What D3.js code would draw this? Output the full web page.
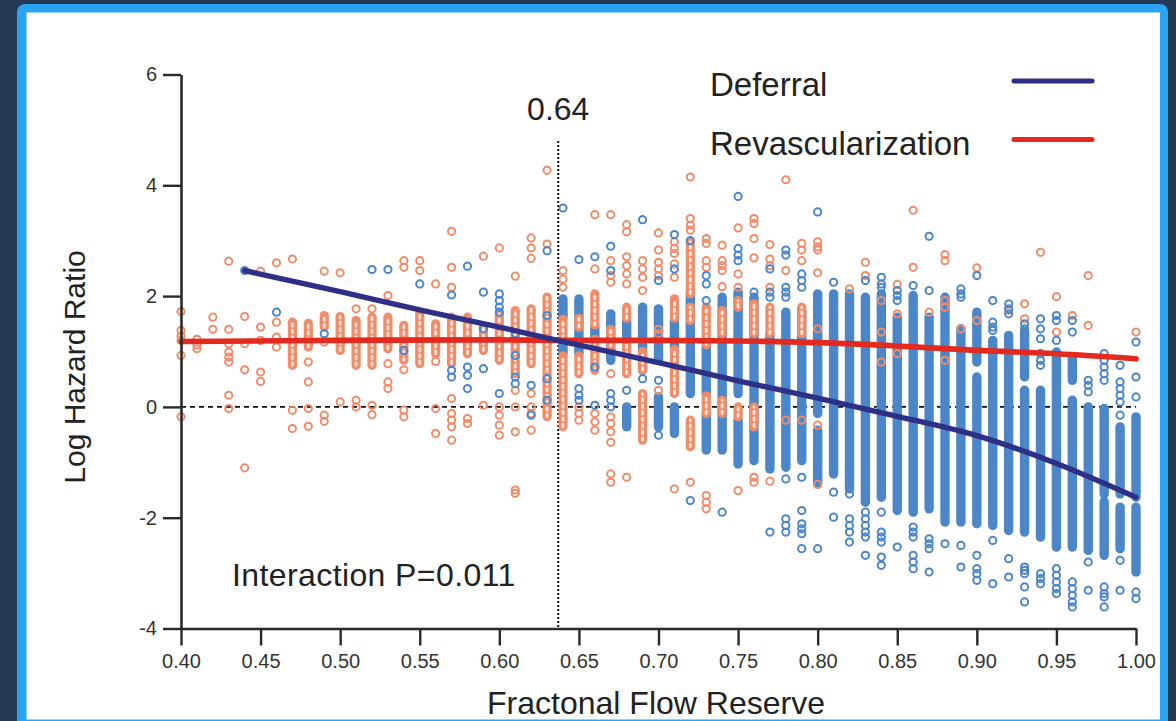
<!DOCTYPE html>
<html>
<head>
<meta charset="utf-8">
<script src="https://cdn.jsdelivr.net/npm/d3@7"></script>
<style>
  body { margin: 0; background: #253a53; }
  svg { display: block; font-family: "Liberation Sans", Arial, sans-serif; }
</style>
</head>
<body>
<div id="chart"></div>
<script>
const xTicks = [0.40, 0.45, 0.50, 0.55, 0.60, 0.65, 0.70, 0.75, 0.80, 0.85, 0.90, 0.95, 1.00];
const yTicks = [-4, -2, 0, 2, 4, 6];
const cutoff = 0.637;
const cutoffLabel = '0.64';
const pText = 'Interaction P=0.011';
const series = ['Deferral', 'Revascularization'];

// fitted curves (FFR, log HR)
const deferralCurve = [[0.44, 2.46], [0.50, 2.08], [0.55, 1.75], [0.60, 1.44], [0.64, 1.18], [0.70, 0.80],
    [0.75, 0.47], [0.80, 0.16], [0.85, -0.17], [0.90, -0.52], [0.95, -1.02], [1.00, -1.63]];
const revascCurve = [[0.40, 1.18], [0.50, 1.20], [0.60, 1.21], [0.64, 1.20], [0.70, 1.20], [0.75, 1.19],
    [0.80, 1.16], [0.85, 1.10], [0.90, 1.02], [0.95, 0.96], [1.00, 0.87]];

// dense stacks of points: [FFR, low, high]
const deferralRuns = [
    [0.64, 1.62, 1.95], [0.64, 0.96, 1.20], [0.65, 0.96, 1.95], [0.66, 1.26, 1.44], [0.67, 0.84, 1.68],
    [0.68, 1.20, 1.56], [0.68, -0.36, 0.0], [0.69, 0.66, 1.80], [0.70, 0.84, 1.77], [0.70, -0.36, 0.18],
    [0.71, 1.08, 1.56], [0.71, -0.48, 0.0], [0.72, 0.72, 2.04], [0.72, 0.24, 0.60], [0.73, 0.24, 1.08],
    [0.73, -0.78, -0.12], [0.74, -0.78, 1.98], [0.75, 0.24, 2.07], [0.75, -1.03, -0.24], [0.76, -0.97, 1.98],
    [0.77, -1.12, 1.32], [0.78, -1.09, 1.71], [0.79, -0.97, 1.74], [0.80, -0.12, 2.04], [0.80, -1.39, -0.42],
    [0.81, -1.21, 2.04], [0.82, -1.48, 2.04], [0.83, -1.72, 1.98], [0.84, -1.63, 2.04], [0.85, -1.87, 1.62],
    [0.86, -1.90, 2.01], [0.87, -1.84, 1.62], [0.88, -2.08, 1.98], [0.89, -2.08, 1.41], [0.90, 0.81, 1.71],
    [0.90, -2.11, 0.54], [0.91, -2.14, 1.20], [0.92, -2.23, 1.29], [0.93, 0.54, 1.35], [0.93, -2.26, 0.30],
    [0.94, -2.35, 0.30], [0.95, -2.53, 0.99], [0.96, 0.48, 0.90], [0.96, -2.53, 0.12], [0.97, -2.59, 0.0],
    [0.98, -1.57, -0.03], [0.98, -2.68, -1.71], [0.99, -1.57, -0.36], [0.99, -2.56, -1.81],
    [1.00, -1.63, -0.18], [1.00, -2.98, -1.81]
];
const revascRuns = [
    [0.47, 0.75, 1.53], [0.48, 1.08, 1.51], [0.49, 1.44, 1.65], [0.50, 1.02, 1.63], [0.51, 0.75, 1.56],
    [0.52, 0.75, 1.62], [0.53, 1.05, 1.62], [0.54, 0.84, 1.47], [0.55, 0.78, 1.68], [0.56, 0.96, 1.50],
    [0.57, 0.78, 1.62], [0.58, 0.96, 1.62], [0.59, 1.02, 1.44], [0.60, 0.84, 1.68], [0.61, 0.60, 1.74],
    [0.62, 0.78, 1.77], [0.63, -0.18, 1.98], [0.64, 1.24, 1.58], [0.64, -0.36, 0.92], [0.65, 1.44, 1.60],
    [0.65, 0.60, 0.92], [0.66, 1.48, 2.04], [0.66, 0.66, 1.22], [0.67, 1.10, 1.40], [0.68, 1.60, 1.80],
    [0.68, 0.60, 1.16], [0.69, 0.66, 1.00], [0.69, -0.60, 0.24], [0.71, 0.24, 1.04], [0.71, 1.60, 1.95],
    [0.72, 2.04, 2.98], [0.72, 1.56, 1.80], [0.72, -0.72, -0.24], [0.73, 1.12, 1.80], [0.73, -0.12, 0.20],
    [0.74, 1.32, 1.74], [0.74, -0.12, 0.12], [0.75, 1.80, 1.92], [0.75, -0.18, 0.0], [0.76, 1.32, 1.86],
    [0.76, -0.36, 0.0], [0.77, 1.32, 1.80], [0.79, 1.32, 1.80]
];

// single points by FFR column
const revascPts = [
    [0.40, [1.72, 1.38, 1.28, 1.20, 0.93, -0.18]], [0.41, [1.22, 1.12, 1.05]], [0.42, [1.62, 1.40]],
    [0.43, [2.63, 1.40, 1.14, 0.99, 0.90, 0.81, 0.21, -0.03]], [0.44, [1.63, 1.14, 0.67, -1.10]],
    [0.45, [2.45, 1.44, 1.20, 0.63, 0.46]], [0.46, [2.60, 1.53, 1.26, 1.08]], [0.47, [2.67, -0.06, -0.39]],
    [0.48, [0.81, 0.45, -0.03, -0.35]], [0.49, [2.45, 1.17, -0.15, -0.26]], [0.50, [2.42, 0.09]],
    [0.51, [1.77, 0.12, 0.0]], [0.52, [1.77, 0.03, -0.14]], [0.53, [2.01, 0.78, 0.45, 0.33]],
    [0.54, [2.64, 2.52, 0.67, -0.06, -0.18]], [0.55, [2.64, 2.46]], [0.56, [2.22, 0.82, -0.03, -0.48]],
    [0.57, [3.17, 2.52, 2.16, 0.15, -0.12, -0.24, -0.36, -0.60]], [0.58, [-0.21, -0.30]], [0.59, [2.72, 0.03]],
    [0.60, [2.87, 0.0, -0.15, -0.33, -0.51]], [0.61, [2.36, 0.30, 0.0, -0.45, -1.50, -1.56]],
    [0.62, [3.05, 2.87, 2.68, 0.24, 0.0, -0.12, -0.42]], [0.63, [4.27, 2.94]], [0.64, [2.46, 2.31, 2.16]],
    [0.65, [0.0, -0.12, -0.24]], [0.66, [3.47, 2.49, -0.12, -0.27, -0.42]],
    [0.67, [3.47, 2.64, 2.37, 2.25, 0.60, -0.18, -0.30, -0.45, -0.64, -1.21, -1.36]],
    [0.68, [3.29, 3.16, 2.71, 2.55, 2.40, 2.22, -1.27]], [0.69, [2.64, 2.49, 2.34, 2.10]],
    [0.70, [3.14, 2.83, 2.61, 2.49, 2.37, 1.40, 1.32, 0.30]], [0.71, [2.98, 2.86, 2.77, 2.58, 2.34, -1.48]],
    [0.72, [4.15, 3.40, 3.28, 3.19, -1.36]], [0.73, [3.04, 2.95, 2.64, 2.52, -1.60, -1.72, -1.84]],
    [0.74, [2.92, 2.64, 2.55, 2.46, 2.17]], [0.75, [3.23, 2.40, 2.16, -1.51]],
    [0.76, [3.40, 3.31, 3.04, 2.69, -1.27, -1.36]], [0.77, [2.93, 2.67, 2.55, 2.16, -1.34]],
    [0.78, [4.10, 2.46, -0.24]], [0.79, [2.95, 2.83, 2.64, -0.24]],
    [0.80, [2.98, 2.89, 2.83, 2.42, 1.41, -0.33, -1.40]], [0.82, [2.13]], [0.83, [2.61, 2.37]],
    [0.84, [1.92, 1.35, 0.81]], [0.85, [2.21, 1.68, 0.96]], [0.86, [3.55, 2.52]], [0.87, [1.71]],
    [0.88, [2.75, 2.64, 1.92, 1.80, 0.84]], [0.89, [1.41]], [0.90, [2.51, 1.56]], [0.92, [1.74]],
    [0.93, [1.86, 1.59]], [0.94, [2.79]], [0.95, [1.99, 1.35]], [0.96, [1.65]], [0.97, [2.37, 1.47]],
    [1.00, [1.35]]
];
const deferralPts = [
    [0.44, [2.46]], [0.46, [1.71]], [0.49, [1.32]], [0.52, [2.48]], [0.53, [2.48]], [0.54, [1.02]],
    [0.55, [2.22]], [0.57, [2.02, 0.66, 0.54]], [0.58, [2.54, 0.72, 0.57, 0.33]], [0.59, [2.07, 1.41, 0.69]],
    [0.60, [2.04, 1.92, 1.80, 1.71, 0.24]], [0.61, [1.32, 0.93, 0.54, 0.42]], [0.62, [0.39, -0.15]],
    [0.63, [2.82, 1.65, 0.51, 0.12]], [0.64, [3.59]], [0.65, [2.66, 0.33, 0.21, 0.12]],
    [0.66, [2.71, 0.72, 0.03]], [0.67, [2.90, 2.46, 0.24, 0.12, 0.0]], [0.68, [0.30]], [0.69, [3.38, 0.51]],
    [0.70, [2.28, 0.48, -0.51]], [0.71, [3.11, 2.49]], [0.72, [3.00, -1.69]], [0.73, [2.37, 2.22, 1.92]],
    [0.74, [-1.90]], [0.75, [3.80, 2.86, 2.74, 2.64]], [0.76, [2.07]], [0.77, [2.49, 2.07, 1.98, -2.26]],
    [0.78, [2.83, 2.74, 2.16, 2.07, 1.98, -1.30, -2.02, -2.14, -2.26]],
    [0.79, [2.40, 2.28, 2.16, -1.27, -1.87, -2.11, -2.20, -2.29, -2.56]], [0.80, [3.52, -2.56]],
    [0.81, [2.25, -1.54, -1.99]], [0.82, [-1.57, -2.02, -2.14, -2.26, -2.44]],
    [0.83, [2.28, -1.90, -2.02, -2.14, -2.26, -2.35, -2.68]],
    [0.84, [2.34, 2.22, 2.16, -1.90, -2.26, -2.35, -2.44, -2.71, -2.86]], [0.85, [2.10, 2.01, 1.92, -2.53]],
    [0.86, [2.19, -2.17, -2.26, -2.35, -2.68, -2.80, -2.92]], [0.87, [3.08, 2.10, -2.38, -2.47, -2.56, -2.98]],
    [0.88, [-2.47]], [0.89, [2.13, 2.04, 1.98, -2.50, -2.89]], [0.90, [2.37, -2.68, -2.92, -3.01, -3.13]],
    [0.91, [1.92, 1.53, 1.44, 1.38, -2.41, -3.19]], [0.92, [1.86, 1.77, 1.68, -2.74, -3.07]],
    [0.93, [1.50, 1.41, -2.89, -2.95, -3.01, -3.25, -3.52]],
    [0.94, [1.59, 1.41, 1.23, 0.96, 0.84, 0.75, -3.01, -3.10, -3.19]],
    [0.95, [1.65, 1.56, 1.20, -2.92, -3.04, -3.16, -3.28, -3.37]],
    [0.96, [1.56, 1.35, -3.16, -3.28, -3.40, -3.52, -3.61]], [0.97, [0.48, 0.39, 0.27, -2.80, -3.31]],
    [0.98, [0.96, 0.84, 0.72, 0.60, 0.48, -3.25, -3.37, -3.43, -3.61]],
    [0.99, [0.75, 0.45, 0.33, 0.21, 0.09, -0.15, -2.77, -3.31]], [1.00, [1.17, 0.54, 0.18, -3.34, -3.46]]
];

const blue = '#4b86c9', orange = '#ef8d6b', navy = '#2e2f86', red = '#e42a1f', ink = '#2a2a2a';

const svg = d3.select('#chart')
    .append('svg')
    .attr('width', 1176)
    .attr('height', 721);

// frame
svg.append('rect').attr('x', 17).attr('y', 4).attr('width', 1151).attr('height', 740)
    .attr('rx', 8).attr('fill', '#2ba3f3');
svg.append('rect').attr('x', 26.5).attr('y', 12.5).attr('width', 1133.5).attr('height', 707)
    .attr('fill', '#ffffff');

const x = d3.scaleLinear().domain([0.40, 1.00]).range([181, 1136]);
const y = d3.scaleLinear().domain([-4, 6]).range([628.5, 74.5]);

const flat = cols => cols.flatMap(([f, vs]) => vs.map(v => [f, v]));

// reference lines
svg.append('line')
    .attr('x1', x(0.40)).attr('x2', x(1.00))
    .attr('y1', y(0)).attr('y2', y(0))
    .attr('stroke', '#111').attr('stroke-width', 1.6)
    .attr('stroke-dasharray', '5,4');
svg.append('line')
    .attr('x1', x(cutoff)).attr('x2', x(cutoff))
    .attr('y1', y(4.8)).attr('y2', y(-4))
    .attr('stroke', '#111').attr('stroke-width', 2)
    .attr('stroke-dasharray', '2,2');

// dense stacks
const runs = svg.append('g').attr('stroke-linecap', 'round');
runs.selectAll('.dRun')
    .data(deferralRuns)
    .enter().append('line')
    .attr('class', 'dRun')
    .attr('stroke', blue)
    .attr('stroke-width', 9.4)
    .attr('x1', d => x(d[0])).attr('x2', d => x(d[0]))
    .attr('y1', d => y(d[1])).attr('y2', d => y(d[2]));
runs.selectAll('.rRun')
    .data(revascRuns)
    .enter().append('line')
    .attr('class', 'rRun')
    .attr('stroke', orange)
    .attr('stroke-width', 9.2)
    .attr('x1', d => x(d[0])).attr('x2', d => x(d[0]))
    .attr('y1', d => y(d[1])).attr('y2', d => y(d[2]));
// ring holes showing through the orange stacks
runs.selectAll('.rHole')
    .data(revascRuns)
    .enter().append('line')
    .attr('class', 'rHole')
    .attr('stroke', '#fbe3d9')
    .attr('stroke-width', 2.8)
    .attr('stroke-dasharray', '2.5,4')
    .attr('x1', d => x(d[0])).attr('x2', d => x(d[0]))
    .attr('y1', d => y(d[1])).attr('y2', d => y(d[2]));

// single points
const dots = svg.append('g').attr('fill', 'none').attr('stroke-width', 2);
dots.selectAll('.rDot')
    .data(flat(revascPts))
    .enter().append('circle')
    .attr('class', 'rDot')
    .attr('r', 3.6)
    .attr('stroke', orange)
    .attr('cx', d => x(d[0]))
    .attr('cy', d => y(d[1]));
dots.selectAll('.dDot')
    .data(flat(deferralPts))
    .enter().append('circle')
    .attr('class', 'dDot')
    .attr('r', 3.6)
    .attr('stroke', blue)
    .attr('cx', d => x(d[0]))
    .attr('cy', d => y(d[1]));

// fitted lines
const line = d3.line().x(d => x(d[0])).y(d => y(d[1])).curve(d3.curveMonotoneX);
svg.append('path').datum(revascCurve)
    .attr('d', line).attr('fill', 'none')
    .attr('stroke', red).attr('stroke-width', 5.6).attr('stroke-linecap', 'round');
svg.append('path').datum(deferralCurve)
    .attr('d', line).attr('fill', 'none')
    .attr('stroke', navy).attr('stroke-width', 5.4).attr('stroke-linecap', 'round');

// axes
const xAxis = d3.axisBottom(x).tickValues(xTicks).tickFormat(d3.format('.2f')).tickSize(17).tickSizeOuter(0).tickPadding(8);
const yAxis = d3.axisLeft(y).tickValues(yTicks).tickFormat(d => String(d)).tickSize(18).tickSizeOuter(0).tickPadding(6);

const gx = svg.append('g')
    .attr('transform', `translate(0,${y(-4)})`)
    .call(xAxis);
const gy = svg.append('g')
    .attr('transform', `translate(${x(0.40)},0)`)
    .call(yAxis);
[gx, gy].forEach(g => {
    g.select('.domain').attr('stroke', ink).attr('stroke-width', 2.6);
    g.selectAll('.tick line').attr('stroke', ink).attr('stroke-width', 2.4);
    g.selectAll('.tick text').attr('fill', '#333').style('font-size', '20px').style('font-family', '"Liberation Sans", Arial, sans-serif');
});

// titles
svg.append('text')
    .attr('transform', `translate(85,367) rotate(-90)`)
    .style('text-anchor', 'middle')
    .style('font-size', '30px')
    .attr('fill', '#222')
    .text('Log Hazard  Ratio');
svg.append('text')
    .attr('x', 656).attr('y', 714)
    .style('text-anchor', 'middle')
    .style('font-size', '32px')
    .attr('fill', '#222')
    .text('Fractonal Flow Reserve');

svg.append('text')
    .attr('x', x(cutoff)).attr('y', 120)
    .style('text-anchor', 'middle')
    .style('font-size', '32px')
    .attr('fill', '#222')
    .text(cutoffLabel);
svg.append('text')
    .attr('x', 232).attr('y', 586)
    .style('font-size', '32px')
    .style('letter-spacing', '0.4px')
    .attr('fill', '#222')
    .text(pText);

// legend
const legend = svg.append('g');
[navy, red].forEach((c, i) => {
    legend.append('text')
        .attr('x', 710).attr('y', 96 + i * 59)
        .style('font-size', '33px')
        .attr('fill', '#222')
        .text(series[i]);
    legend.append('line')
        .attr('x1', 1014).attr('x2', 1092)
        .attr('y1', 81 + i * 58.5).attr('y2', 81 + i * 58.5)
        .attr('stroke', c).attr('stroke-width', 5).attr('stroke-linecap', 'round');
});
</script>
</body>
</html>
